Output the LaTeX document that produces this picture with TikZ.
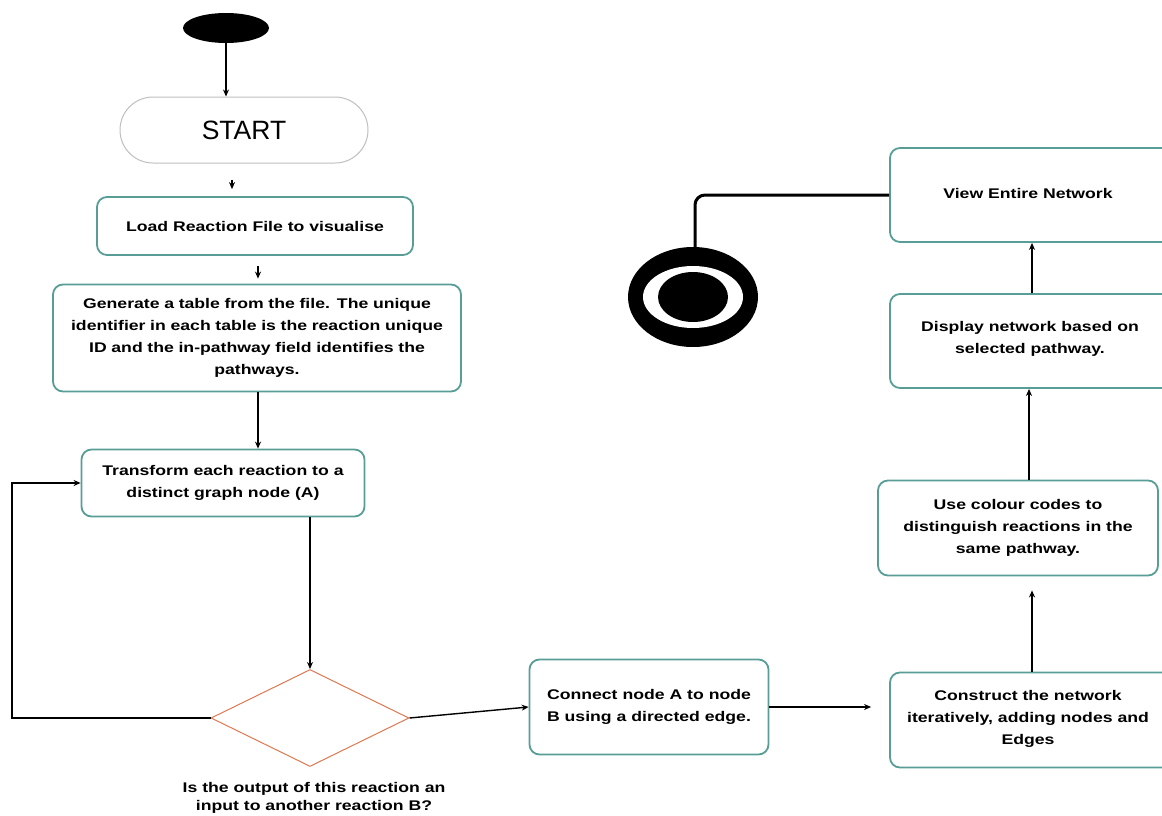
\documentclass[tikz,border=0pt]{standalone}
\usepackage{fontspec}
\setmainfont{Liberation Sans}
\newfontfamily\boxfont[FakeStretch=1.26]{Liberation Sans}
\usetikzlibrary{shapes.geometric,arrows.meta}
\definecolor{boxteal}{RGB}{88,158,150}
\definecolor{diaorange}{RGB}{222,120,80}
\tikzset{
  boxtext/.style={align=center, font=\boxfont\fontsize{14}{22}\selectfont\bfseries},
  stepbox/.style={draw=boxteal, line width=1.8pt, rounded corners=10pt, fill=white,
    inner sep=4pt, boxtext},
  arr/.style={line width=1.4pt, -{Stealth[length=7pt,width=6pt]}},
}
\begin{document}
\begin{tikzpicture}[x=1pt,y=-1pt]
\useasboundingbox (0,0) rectangle (1162,816);
\clip (0,0) rectangle (1162,816);
% start / end markers
\node (init) [ellipse, fill=black, minimum width=86pt, minimum height=30pt, inner sep=0pt] at (226,28) {};
\node (startp) [draw=black!25, line width=1pt, rounded corners=33pt, minimum width=248pt, minimum height=66pt,
  font=\fontsize{26.5}{30}\selectfont] at (244,130) {START};
% boxes
\node (load) [stepbox, minimum width=316pt, minimum height=58pt] at (255,226) {Load Reaction File to visualise};
\node (gen) [stepbox, minimum width=408pt, minimum height=107pt, text width=400pt] at (257,338)
  {Generate a table from the file. The unique\\identifier in each table is the reaction unique\\ID and the in-pathway field identifies the\\pathways.};
\node (trans) [stepbox, minimum width=283pt, minimum height=67pt] at (223,483)
  {Transform each reaction to a\\distinct graph node (A)};
\node (dec) [diamond, draw=diaorange, line width=1pt, minimum width=198pt, minimum height=97pt, inner sep=0pt] at (310,718) {};
\node (declab) [align=center, font=\boxfont\fontsize{14}{17.5}\selectfont\bfseries] at (314,798)
  {Is the output of this reaction an\\input to another reaction B?};
\node (conn) [stepbox, minimum width=239pt, minimum height=95pt, align=left] at (649,707)
  {Connect node A to node\\B using a directed edge.};
\node (cons) [stepbox, minimum width=300pt, minimum height=95pt] at (1040,720) {};
\node (constxt) [boxtext] at (1028,719)
  {Construct the network\\iteratively, adding nodes and\\Edges};
\node (use) [stepbox, minimum width=280pt, minimum height=95pt] at (1018,528)
  {Use colour codes to\\distinguish reactions in the\\same pathway.};
\node (disp) [stepbox, minimum width=300pt, minimum height=94pt] at (1040,341) {};
\node (disptxt) [boxtext] at (1030,339)
  {Display network based on\\selected pathway.};
\node (view) [stepbox, minimum width=300pt, minimum height=94pt] at (1040,195) {};
\node (viewtxt) [boxtext] at (1028,193) {View Entire Network};
% final bullseye
\node (fin) [ellipse, fill=black, minimum width=130pt, minimum height=100pt, inner sep=0pt] at (693,297) {};
\fill[white] (fin.center) ellipse [x radius=50pt, y radius=31pt];
\fill[black] (fin.center) ellipse [x radius=35pt, y radius=25pt];
% connectors
\draw[arr] (init) -- (init |- startp.north);
\draw[arr, shorten <=16pt, shorten >=7pt] (startp.south -| 232,0) -- (load.north -| 232,0);
\draw[arr, shorten <=10pt, shorten >=5pt] (load.south -| 258,0) -- (gen.north -| 258,0);
\draw[arr] (gen.south -| 258,0) -- (trans.north -| 258,0);
\draw[arr] (trans.south -| dec.north) -- (dec.north);
\coordinate (lpA) at (12,718);
\coordinate (lpB) at (12,483);
\draw[arr] (dec.west) -- (lpA) -- (lpB) -- (trans.west);
\draw[arr] (dec.east) -- (conn.west);
\draw[arr, shorten >=18pt] (conn.east) -- (conn.east -| cons.west);
\draw[arr, shorten >=14pt] (cons.north -| 1032,0) -- (use.south -| 1032,0);
\draw[arr] (use.north -| 1029,0) -- (disp.south -| 1029,0);
\draw[arr] (disp.north -| 1032,0) -- (view.south -| 1032,0);
\draw[line width=3pt, rounded corners=10pt] (view.west |- 0,195) -- (695,195) -- (fin.north -| 695,0);
\end{tikzpicture}
\end{document}
